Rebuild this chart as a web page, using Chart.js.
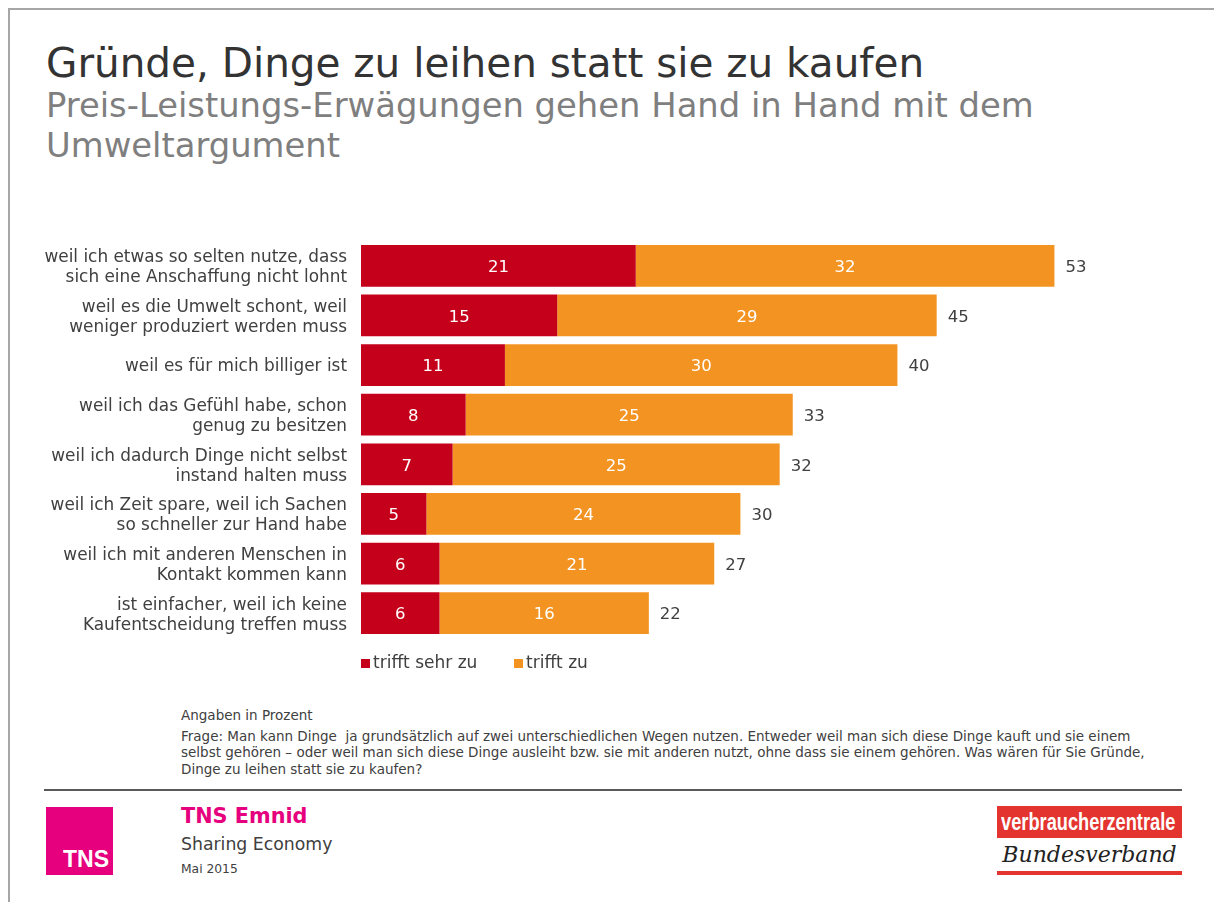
<!DOCTYPE html>
<html lang="de">
<head>
    <meta charset="UTF-8">
    <title>Gründe, Dinge zu leihen statt sie zu kaufen</title>
    <script src="https://cdn.jsdelivr.net/npm/chart.js"></script>
    <style>
        body { margin: 0; background: #fff; font-family: "DejaVu Sans", Verdana, sans-serif; }
        .page { position: relative; width: 1214px; height: 902px; overflow: hidden; }
        .frame { position: absolute; left: 8px; top: 8px; right: -10px; bottom: -10px;
                 border-left: 2px solid #a6a6a6; border-top: 2px solid #a6a6a6; }
        .title { position: absolute; left: 46px; top: 41px; font-size: 40.5px; line-height: 44px; color: #333; white-space: nowrap; }
        .subtitle { position: absolute; left: 46px; top: 86px; font-size: 33.8px; line-height: 40px; color: #7f7f7f; white-space: nowrap; }
        #chartBox { position: absolute; left: 0; top: 230px; width: 1214px; height: 470px; }
        .note { position: absolute; left: 181px; font-size: 13.5px; color: #404040; white-space: nowrap; }
        .rule { position: absolute; left: 44px; top: 789px; width: 1138px; height: 2px; background: #595959; }
        .tns { position: absolute; left: 46px; top: 807px; width: 67px; height: 68px; background: #e6007e; }
        .tns span { position: absolute; right: 4px; bottom: 2px; color: #fff; font: bold 23px "Liberation Sans Narrow", "Liberation Sans", sans-serif; }
        .brand { position: absolute; left: 181px; top: 804px; font-size: 20.8px; font-weight: bold; color: #e6007e; }
        .study { position: absolute; left: 181px; top: 834px; font-size: 17.3px; color: #404040; }
        .date { position: absolute; left: 181px; top: 862px; font-size: 12.3px; color: #404040; }
        .vz { position: absolute; left: 997px; top: 806px; width: 185px; height: 32px; background: #e3342f; overflow: hidden; }
        .vz span { position: absolute; left: 4px; top: 0; color: #fff; font: bold 24px "Liberation Sans", sans-serif; line-height: 32px;
                   transform: scaleX(0.76); transform-origin: left center; white-space: nowrap; }
        .bv { position: absolute; left: 997px; top: 842px; width: 185px; text-align: center;
              font: italic 22px "DejaVu Serif", "Liberation Serif", serif; color: #222; }
        .vzline { position: absolute; left: 997px; top: 871px; width: 185px; height: 4px; background: #e3342f; }
    </style>
</head>
<body>
<div class="page">
    <div class="frame"></div>
    <div class="title">Gründe, Dinge zu leihen statt sie zu kaufen</div>
    <div class="subtitle">Preis-Leistungs-Erwägungen gehen Hand in Hand mit dem<br>Umweltargument</div>

    <div id="chartBox"><canvas id="reasonChart" width="1214" height="470"></canvas></div>

    <div class="note" style="top: 707px;">Angaben in Prozent</div>
    <div class="note" style="top: 728px;">Frage: Man kann Dinge &nbsp;ja grundsätzlich auf zwei unterschiedlichen Wegen nutzen. Entweder weil man sich diese Dinge kauft und sie einem</div>
    <div class="note" style="top: 744px;">selbst gehören – oder weil man sich diese Dinge ausleiht bzw. sie mit anderen nutzt, ohne dass sie einem gehören. Was wären für Sie Gründe,</div>
    <div class="note" style="top: 761px;">Dinge zu leihen statt sie zu kaufen?</div>

    <div class="rule"></div>
    <div class="tns"><span>TNS</span></div>
    <div class="brand">TNS Emnid</div>
    <div class="study">Sharing Economy</div>
    <div class="date">Mai 2015</div>
    <div class="vz"><span>verbraucherzentrale</span></div>
    <div class="bv">Bundesverband</div>
    <div class="vzline"></div>
</div>

<script>
    // categories (two-line labels as on the slide)
    const reasons = [
        ['weil ich etwas so selten nutze, dass', 'sich eine Anschaffung nicht lohnt'],
        ['weil es die Umwelt schont, weil', 'weniger produziert werden muss'],
        'weil es für mich billiger ist',
        ['weil ich das Gefühl habe, schon', 'genug zu besitzen'],
        ['weil ich dadurch Dinge nicht selbst', 'instand halten muss'],
        ['weil ich Zeit spare, weil ich Sachen', 'so schneller zur Hand habe'],
        ['weil ich mit anderen Menschen in', 'Kontakt kommen kann'],
        ['ist einfacher, weil ich keine', 'Kaufentscheidung treffen muss']
    ];
    const trifftSehrZu = [21, 15, 11, 8, 7, 5, 6, 6];
    const trifftZu = [32, 29, 30, 25, 25, 24, 21, 16];
    // totals as printed (rounded separately, so not always the sum)
    const totals = [53, 45, 40, 33, 32, 30, 27, 22];

    const RED = '#c5001a';
    const ORANGE = '#f39321';
    const TEXT = '#404040';
    const FONT = '"DejaVu Sans", Verdana, sans-serif';

    // value labels, totals and legend
    const labelPlugin = {
        id: 'labels',
        afterDatasetsDraw(chart) {
            const ctx = chart.ctx;
            ctx.save();
            ctx.font = '16.5px ' + FONT;
            ctx.textBaseline = 'middle';

            chart.data.datasets.forEach((ds, i) => {
                chart.getDatasetMeta(i).data.forEach((bar, j) => {
                    const p = bar.getProps(['x', 'y', 'base'], true);
                    ctx.fillStyle = '#fff';
                    ctx.textAlign = 'center';
                    ctx.fillText(ds.data[j], (p.x + p.base) / 2, p.y + 2);
                });
            });

            const last = chart.getDatasetMeta(chart.data.datasets.length - 1);
            last.data.forEach((bar, j) => {
                ctx.fillStyle = TEXT;
                ctx.textAlign = 'left';
                ctx.fillText(totals[j], bar.x + 11, bar.y + 2);
            });

            // legend under the bars
            let lx = chart.chartArea.left;
            const ly = chart.chartArea.bottom + 25;
            ctx.font = '17px ' + FONT;
            chart.data.datasets.forEach(ds => {
                ctx.fillStyle = ds.backgroundColor;
                ctx.fillRect(lx, ly - 4, 9, 9);
                ctx.fillStyle = TEXT;
                ctx.textAlign = 'left';
                ctx.fillText(ds.label, lx + 12, ly + 1);
                lx += 153;
            });
            ctx.restore();
        }
    };

    new Chart(document.getElementById('reasonChart'), {
        type: 'bar',
        data: {
            labels: reasons,
            datasets: [
                { label: 'trifft sehr zu', data: trifftSehrZu, backgroundColor: RED },
                { label: 'trifft zu', data: trifftZu, backgroundColor: ORANGE }
            ]
        },
        options: {
            indexAxis: 'y',
            responsive: false,
            animation: false,
            layout: { padding: { left: 0, right: 68, top: 11, bottom: 62 } },
            categoryPercentage: 1,
            barPercentage: 0.84,
            plugins: { legend: { display: false }, tooltip: { enabled: false } },
            scales: {
                x: { stacked: true, min: 0, max: 60, display: false },
                y: {
                    stacked: true,
                    grid: { display: false, drawTicks: false },
                    border: { display: false },
                    ticks: { color: TEXT, padding: 14, labelOffset: 2, font: { family: FONT, size: 16.9, lineHeight: 1.18 } },
                    afterFit(scale) {
                        scale.width = 361;
                        scale.paddingTop = 0;
                        scale.paddingBottom = 0;
                    }
                }
            }
        },
        plugins: [labelPlugin]
    });
</script>
</body>
</html>
